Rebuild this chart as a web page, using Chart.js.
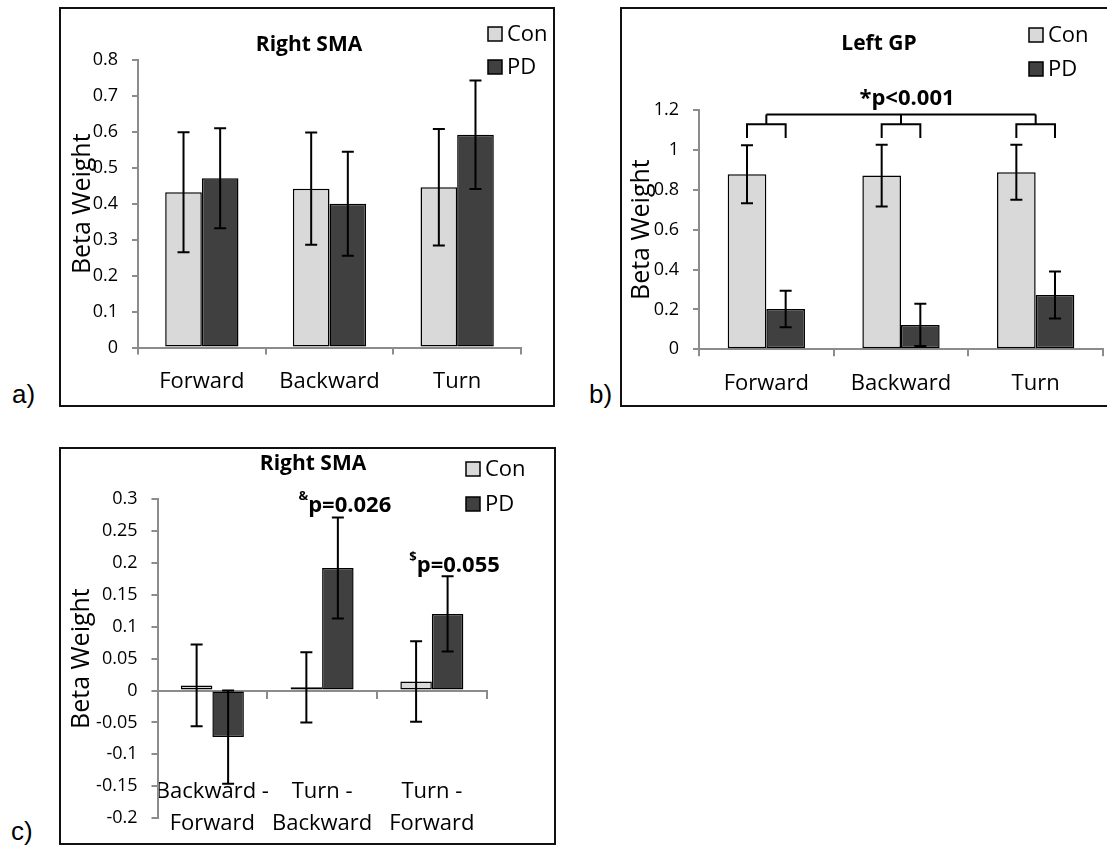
<!DOCTYPE html>
<html>
<head>
<meta charset="utf-8">
<script src="https://cdn.jsdelivr.net/npm/chart.js@4.4.1/dist/chart.umd.min.js"></script>
<style>
  body { margin: 0; width: 1107px; height: 848px; overflow: hidden; background: #fff; position: relative; }
  .panel { position: absolute; border: 2px solid #111; box-sizing: border-box; overflow: hidden; }
  .panel canvas { display: block; }
  .tag { position: absolute; font: 26px "Liberation Sans", Arial, sans-serif; line-height: 26px; color: #000; }
</style>
</head>
<body>
<div class="panel" style="left:59px; top:7px; width:496px; height:400px;"><canvas id="chartA" width="492" height="396"></canvas></div>
<div class="panel" style="left:620px; top:7px; width:518px; height:400px;"><canvas id="chartB" width="514" height="396"></canvas></div>
<div class="panel" style="left:59px; top:447px; width:497px; height:398px;"><canvas id="chartC" width="493" height="394"></canvas></div>
<div class="tag" style="left:12px; top:381px;">a)</div>
<div class="tag" style="left:589px; top:381px;">b)</div>
<div class="tag" style="left:11px; top:818px;">c)</div>

<script>
  // categorias
  const conditions = ['Forward', 'Backward', 'Turn'];
  const contrasts = [['Backward -', 'Forward'], ['Turn -', 'Backward'], ['Turn -', 'Forward']];

  // a) Right SMA
  const smaCon = [0.432, 0.442, 0.446];
  const smaConErr = [0.167, 0.156, 0.162];
  const smaPd = [0.471, 0.400, 0.592];
  const smaPdErr = [0.139, 0.145, 0.151];

  // b) Left GP
  const gpCon = [0.878, 0.871, 0.888];
  const gpConErr = [0.145, 0.155, 0.138];
  const gpPd = [0.202, 0.122, 0.272];
  const gpPdErr = [0.092, 0.106, 0.118];

  // c) Right SMA, differences between conditions
  const diffCon = [0.008, 0.005, 0.014];
  const diffConErr = [0.064, 0.055, 0.063];
  const diffPd = [-0.073, 0.192, 0.120];
  const diffPdErr = [0.073, 0.079, 0.059];

  // y axis ranges: [min, max, step]
  const yRangeA = [0, 0.8, 0.1];
  const yRangeB = [0, 1.2, 0.2];
  const yRangeC = [-0.2, 0.3, 0.05];

  // significance labels
  const gpNote = '*p<0.001';
  const diffNoteMark = ['&', '$'];
  const diffNoteText = ['p=0.026', 'p=0.055'];
  const diffNoteIndex = [1, 2];

  const axisGray = '#8c8c8c';
  Chart.defaults.font.family = '"Open Sans", sans-serif';
  Chart.defaults.color = '#000';

  function makeDatasets(con, conErr, pd, pdErr) {
    return [
      { label: 'Con', data: con, errors: conErr, backgroundColor: '#d9d9d9', borderColor: '#000', borderWidth: 1.5, borderSkipped: false },
      { label: 'PD', data: pd, errors: pdErr, backgroundColor: '#404040', borderColor: '#000', borderWidth: 1.5, borderSkipped: false }
    ];
  }

  function yAxis(range, width, titlePad) {
    return {
      min: range[0],
      max: range[1],
      ticks: { stepSize: range[2], color: '#000', font: { size: 18 }, padding: 14, callback: v => String(Math.round(v * 100) / 100) },
      grid: { drawOnChartArea: false, tickLength: 6, color: axisGray, lineWidth: 2 },
      border: { color: axisGray, width: 2 },
      title: { display: true, text: 'Beta Weight', color: '#000', font: { size: 25 }, padding: { top: titlePad, bottom: 0 } },
      afterFit: s => { s.width = width; }
    };
  }

  function xAxis(extra) {
    return Object.assign({
      grid: { offset: true, drawOnChartArea: false, tickLength: 7, color: axisGray, lineWidth: 2 },
      border: { color: axisGray, width: 2 },
      ticks: { color: '#000', font: { size: 22 }, padding: 14, maxRotation: 0, autoSkip: false }
    }, extra);
  }

  // error bars from dataset.errors
  const errorBars = {
    id: 'errorBars',
    afterDatasetsDraw(chart) {
      const ctx = chart.ctx, y = chart.scales.y;
      ctx.save();
      ctx.strokeStyle = '#000';
      ctx.lineWidth = 2;
      chart.data.datasets.forEach((ds, i) => {
        chart.getDatasetMeta(i).data.forEach((bar, j) => {
          const top = y.getPixelForValue(ds.data[j] + ds.errors[j]);
          const bot = y.getPixelForValue(ds.data[j] - ds.errors[j]);
          ctx.beginPath();
          ctx.moveTo(bar.x, top); ctx.lineTo(bar.x, bot);
          ctx.moveTo(bar.x - 6, top); ctx.lineTo(bar.x + 6, top);
          ctx.moveTo(bar.x - 6, bot); ctx.lineTo(bar.x + 6, bot);
          ctx.stroke();
        });
      });
      ctx.restore();
    }
  };

  // title + legend box in the top right
  function header(cfg) {
    return {
      id: 'header',
      afterDraw(chart) {
        const ctx = chart.ctx;
        ctx.save();
        ctx.textBaseline = 'middle';
        ctx.fillStyle = '#000';
        ctx.textAlign = 'center';
        ctx.font = 'bold 21px "Open Sans"';
        ctx.fillText(cfg.title, cfg.titleX, cfg.titleY);
        ctx.textAlign = 'left';
        ctx.font = '22px "Open Sans"';
        chart.data.datasets.forEach((ds, i) => {
          const cy = cfg.legendY + i * cfg.legendGap;
          ctx.fillStyle = ds.backgroundColor;
          ctx.fillRect(cfg.legendX, cy - 7, 14, 14);
          ctx.strokeStyle = '#000';
          ctx.lineWidth = 1.5;
          ctx.strokeRect(cfg.legendX, cy - 7, 14, 14);
          ctx.fillStyle = '#000';
          ctx.fillText(ds.label, cfg.legendX + 19, cy + 1);
        });
        ctx.restore();
      }
    };
  }

  // b) bracket over all three groups
  const gpBracket = {
    id: 'gpBracket',
    afterDatasetsDraw(chart) {
      const ctx = chart.ctx, y = chart.scales.y;
      const con = chart.getDatasetMeta(0).data, pd = chart.getDatasetMeta(1).data;
      const yLow = y.getPixelForValue(1.06), yMid = y.getPixelForValue(1.128), yTop = y.getPixelForValue(1.178);
      ctx.save();
      ctx.strokeStyle = '#000';
      ctx.lineWidth = 2;
      ctx.beginPath();
      const mids = [];
      con.forEach((c, j) => {
        const p = pd[j], m = (c.x + p.x) / 2;
        mids.push(m);
        ctx.moveTo(c.x, yLow); ctx.lineTo(c.x, yMid); ctx.lineTo(p.x, yMid); ctx.lineTo(p.x, yLow);
        ctx.moveTo(m, yMid); ctx.lineTo(m, yTop);
      });
      ctx.moveTo(mids[0], yTop); ctx.lineTo(mids[mids.length - 1], yTop);
      ctx.stroke();
      ctx.fillStyle = '#000';
      ctx.font = 'bold 22px "Open Sans"';
      ctx.textAlign = 'center';
      ctx.textBaseline = 'middle';
      ctx.fillText(gpNote, chart.scales.x.getPixelForValue(1) + 6, y.getPixelForValue(1.258));
      ctx.restore();
    }
  };

  // c) p-values above the PD bars
  const diffNotes = {
    id: 'diffNotes',
    afterDatasetsDraw(chart) {
      const ctx = chart.ctx, y = chart.scales.y;
      const pd = chart.getDatasetMeta(1).data;
      const levels = [0.29, 0.195];
      ctx.save();
      ctx.fillStyle = '#000';
      ctx.textAlign = 'left';
      ctx.textBaseline = 'middle';
      diffNoteIndex.forEach((idx, k) => {
        ctx.font = 'bold 13px "Open Sans"';
        const w1 = ctx.measureText(diffNoteMark[k]).width;
        ctx.font = 'bold 22px "Open Sans"';
        const w2 = ctx.measureText(diffNoteText[k]).width;
        const x0 = pd[idx].x + 7 - (w1 + w2) / 2;
        const cy = y.getPixelForValue(levels[k]);
        ctx.fillText(diffNoteText[k], x0 + w1, cy);
        ctx.font = 'bold 13px "Open Sans"';
        ctx.fillText(diffNoteMark[k], x0, cy - 9);
      });
      ctx.restore();
    }
  };

  const common = {
    responsive: false,
    animation: false,
    events: [],
    datasets: { bar: { categoryPercentage: 0.574, barPercentage: 1 } },
    plugins: { legend: { display: false }, tooltip: { enabled: false }, title: { display: false } }
  };

  new Chart(document.getElementById('chartA'), {
    type: 'bar',
    data: { labels: conditions, datasets: makeDatasets(smaCon, smaConErr, smaPd, smaPdErr) },
    options: Object.assign({}, common, {
      layout: { padding: { top: 51, right: 32, bottom: 0, left: 0 } },
      scales: {
        x: xAxis({ afterFit: s => { s.height = 57.5; } }),
        y: yAxis(yRangeA, 77, 7)
      }
    }),
    plugins: [errorBars, header({ title: 'Right SMA', titleX: 248, titleY: 36, legendX: 427, legendY: 25, legendGap: 33 })]
  });

  new Chart(document.getElementById('chartB'), {
    type: 'bar',
    data: { labels: conditions, datasets: makeDatasets(gpCon, gpConErr, gpPd, gpPdErr) },
    options: Object.assign({}, common, {
      layout: { padding: { top: 101, right: 33, bottom: 0, left: 0 } },
      scales: {
        x: xAxis({ afterFit: s => { s.height = 55.7; } }),
        y: yAxis(yRangeB, 77, 5)
      }
    }),
    plugins: [errorBars, gpBracket, header({ title: 'Left GP', titleX: 257, titleY: 35, legendX: 407, legendY: 26, legendGap: 34 })]
  });

  new Chart(document.getElementById('chartC'), {
    type: 'bar',
    data: { labels: contrasts, datasets: makeDatasets(diffCon, diffConErr, diffPd, diffPdErr) },
    options: Object.assign({}, common, {
      layout: { padding: { top: 50, right: 9, bottom: 10, left: 0 } },
      scales: {
        x: xAxis({
          position: { y: 0 },
          ticks: { color: '#000', font: { size: 22, lineHeight: 1.45 }, padding: 78, maxRotation: 0, autoSkip: false }
        }),
        y: yAxis(yRangeC, 96.5, 6)
      }
    }),
    plugins: [errorBars, diffNotes, header({ title: 'Right SMA', titleX: 252, titleY: 15, legendX: 405, legendY: 20, legendGap: 35 })]
  });
</script>
</body>
</html>
